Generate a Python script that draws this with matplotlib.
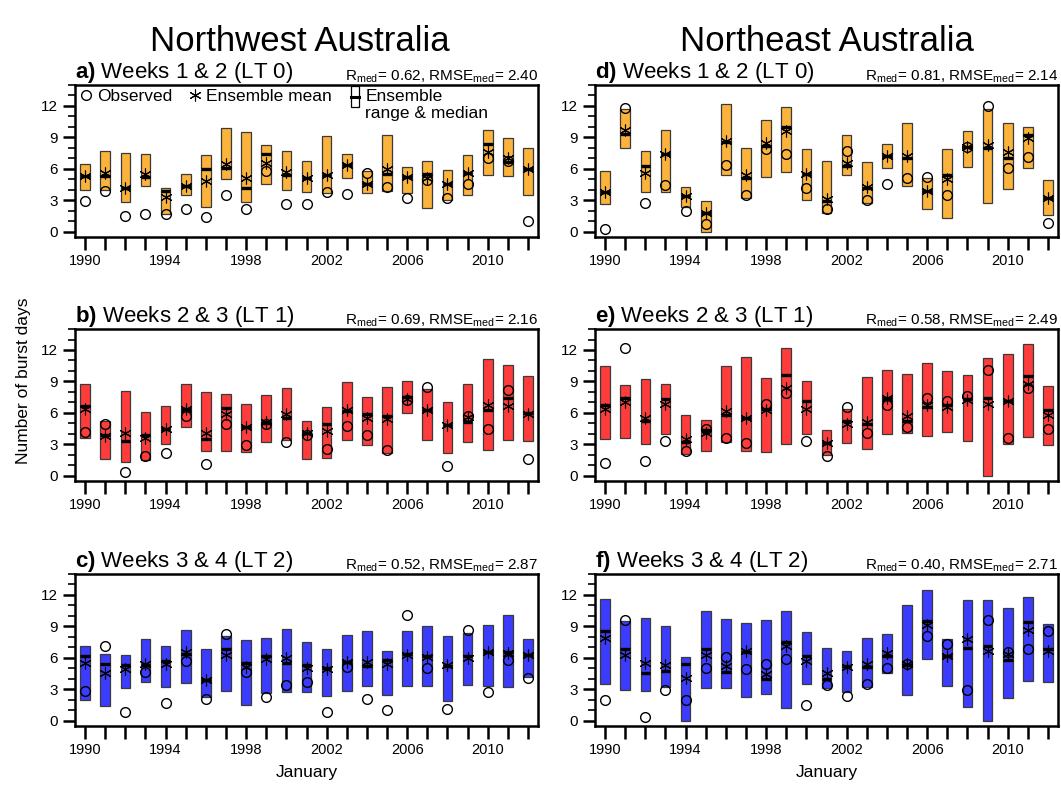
import matplotlib
matplotlib.use('Agg')
import matplotlib.pyplot as plt
import numpy as np
from matplotlib.legend_handler import HandlerBase
from matplotlib.lines import Line2D
from matplotlib.patches import Rectangle
from matplotlib.ticker import MultipleLocator

plt.rcParams['font.family'] = ['Liberation Sans', 'DejaVu Sans']
plt.rcParams['mathtext.fontset'] = 'custom'
plt.rcParams['mathtext.rm'] = 'Liberation Sans'
plt.rcParams['mathtext.bf'] = 'Liberation Sans:bold'

YEARS = np.arange(1990, 2013)
YEAR_LABELS = [str(y) if (y - 1990) % 4 == 0 else '' for y in YEARS]

# a) Northwest, weeks 1 & 2
NW0_LO = [4.0, 4.0, 2.85, 4.35, 1.65, 3.55, 2.4, 5.0, 2.8, 4.6, 4.0, 3.8, 3.65, 5.15, 3.65, 3.85, 3.65, 2.3, 3.0, 3.5, 5.45, 5.35, 3.5]
NW0_HI = [6.5, 7.7, 7.5, 7.4, 4.2, 5.55, 7.3, 9.85, 9.5, 8.3, 7.7, 6.7, 9.15, 7.45, 5.8, 9.2, 6.2, 6.7, 5.9, 7.35, 9.7, 8.95, 8.0]
NW0_MED = [5.3, 5.3, 4.2, 5.2, 3.9, 4.35, 6.0, 6.1, 4.2, 7.4, 5.4, 5.1, 5.45, 6.35, 4.55, 5.55, 5.25, 5.55, 4.55, 5.65, 8.35, 6.65, 6.0]
NW0_MEAN = [5.3, 5.65, 4.2, 5.55, 3.3, 4.35, 4.8, 6.5, 5.1, 6.6, 5.7, 5.1, 5.45, 6.35, 4.55, 5.95, 5.25, 5.1, 4.55, 5.65, 7.6, 7.0, 6.0]
NW0_OBS = [2.9, 3.9, 1.5, 1.7, 1.7, 2.2, 1.4, 3.55, 2.2, 5.8, 2.6, 2.6, 3.75, 3.6, 5.65, 4.3, 3.2, 4.9, 3.2, 4.55, 7.05, 6.7, 1.0]

# b) Northwest, weeks 2 & 3
NW1_LO = [3.6, 1.6, 1.3, 1.5, 3.05, 4.7, 2.4, 2.4, 2.25, 3.2, 3.45, 1.6, 1.7, 3.45, 2.95, 2.2, 5.95, 3.45, 2.2, 3.2, 2.5, 3.45, 3.3]
NW1_HI = [8.75, 5.25, 8.1, 6.1, 6.65, 8.75, 7.95, 7.8, 6.85, 7.7, 8.4, 5.25, 6.6, 8.9, 7.55, 8.5, 9.0, 8.3, 7.0, 8.8, 11.15, 10.55, 9.5]
NW1_MED = [6.65, 3.9, 3.3, 3.9, 4.5, 6.35, 3.5, 6.45, 4.7, 5.0, 5.55, 4.05, 4.95, 6.2, 5.85, 5.7, 7.5, 6.3, 4.85, 5.1, 6.3, 7.45, 6.0]
NW1_MEAN = [6.35, 3.75, 4.05, 3.6, 4.5, 6.35, 4.05, 5.9, 4.7, 5.15, 5.85, 4.05, 4.3, 6.3, 5.5, 5.45, 7.35, 6.3, 4.85, 5.65, 6.75, 6.65, 5.9]
NW1_OBS = [4.2, 4.9, 0.4, 1.9, 2.2, 5.75, 1.15, 4.95, 2.9, 4.95, 3.2, 3.85, 2.55, 4.75, 3.9, 2.5, 7.25, 8.5, 0.95, 5.75, 4.5, 8.2, 1.6]

# c) Northwest, weeks 3 & 4
NW2_LO = [1.95, 1.4, 3.1, 3.7, 3.2, 3.6, 2.25, 2.85, 1.5, 2.65, 2.75, 2.75, 2.35, 2.8, 3.3, 2.5, 3.3, 3.3, 1.9, 3.45, 3.3, 3.2, 4.2]
NW2_HI = [7.1, 6.4, 6.3, 7.8, 7.1, 8.7, 6.8, 8.1, 7.75, 7.9, 8.75, 7.5, 6.85, 8.15, 8.6, 6.65, 8.55, 9.0, 8.05, 8.4, 9.1, 10.05, 7.8]
NW2_MED = [6.15, 5.4, 5.3, 5.35, 5.75, 6.4, 3.85, 6.85, 5.55, 6.15, 5.55, 5.35, 5.05, 5.65, 5.2, 5.8, 6.4, 6.15, 5.2, 6.15, 6.55, 6.55, 6.3]
NW2_MEAN = [5.55, 4.55, 4.9, 5.45, 5.45, 6.55, 3.85, 6.25, 5.1, 5.85, 6.0, 5.0, 4.95, 5.65, 5.65, 5.45, 6.25, 6.1, 5.35, 6.0, 6.55, 6.45, 6.3]
NW2_OBS = [2.85, 7.1, 0.8, 4.65, 1.7, 5.75, 2.1, 8.3, 4.65, 2.25, 3.4, 3.7, 0.8, 5.1, 2.05, 1.0, 10.05, 5.05, 1.1, 8.7, 2.7, 5.8, 4.1]

# d) Northeast, weeks 1 & 2
NE0_LO = [2.6, 7.95, 3.8, 3.75, 2.4, 0.0, 5.4, 3.2, 5.25, 5.7, 3.0, 1.75, 5.4, 2.7, 6.1, 4.4, 2.15, 1.35, 6.2, 2.75, 4.1, 6.05, 1.6]
NE0_HI = [5.8, 11.75, 7.7, 9.75, 4.3, 2.9, 12.2, 7.95, 10.7, 11.9, 7.9, 6.7, 9.25, 6.65, 8.4, 10.4, 5.15, 7.85, 9.6, 11.75, 10.4, 10.0, 4.9]
NE0_MED = [3.8, 9.35, 6.25, 7.4, 3.45, 1.8, 8.55, 5.1, 8.2, 9.95, 5.55, 2.9, 6.25, 4.15, 7.25, 7.0, 3.85, 5.4, 8.1, 8.0, 7.05, 9.2, 3.2]
NE0_MEAN = [3.8, 9.7, 5.65, 7.4, 3.45, 1.8, 8.7, 5.4, 8.5, 9.6, 5.55, 3.1, 6.6, 4.3, 7.25, 7.25, 3.85, 5.0, 8.1, 8.25, 7.6, 8.95, 3.2]
NE0_OBS = [0.25, 11.8, 2.7, 4.5, 2.0, 0.7, 6.35, 3.5, 7.9, 7.45, 4.2, 2.2, 7.7, 3.0, 4.6, 5.1, 5.25, 3.5, 8.1, 11.95, 6.1, 7.15, 0.8]

# e) Northeast, weeks 2 & 3
NE1_LO = [3.5, 3.6, 3.05, 4.0, 2.1, 2.4, 3.2, 2.4, 2.25, 3.05, 3.95, 1.95, 3.1, 2.55, 4.0, 4.05, 3.75, 4.2, 3.35, 0.0, 3.0, 3.7, 2.9]
NE1_HI = [10.5, 8.65, 9.2, 8.75, 5.8, 5.35, 10.5, 11.3, 9.3, 12.15, 9.0, 4.4, 6.4, 9.45, 10.1, 9.7, 10.8, 10.0, 9.6, 11.2, 11.6, 12.55, 8.55]
NE1_MED = [6.75, 7.45, 5.25, 7.3, 3.25, 4.4, 5.8, 5.55, 6.35, 9.6, 7.1, 3.1, 5.25, 4.95, 7.45, 5.2, 6.6, 6.75, 7.35, 7.45, 7.1, 9.5, 6.3]
NE1_MEAN = [6.4, 7.0, 5.5, 6.85, 3.5, 4.05, 6.2, 5.55, 6.3, 8.4, 6.4, 3.1, 4.9, 5.1, 7.45, 5.7, 6.75, 6.6, 7.25, 6.85, 7.1, 8.8, 5.8]
NE1_OBS = [1.2, 12.2, 1.45, 3.35, 2.4, 4.5, 3.6, 3.1, 6.85, 7.85, 3.35, 1.9, 6.6, 4.05, 6.8, 4.65, 7.45, 7.15, 7.65, 10.05, 3.6, 8.35, 4.45]

# f) Northeast, weeks 3 & 4
NE2_LO = [3.5, 2.95, 2.85, 3.2, 0.0, 3.1, 3.15, 2.25, 2.6, 1.2, 3.55, 3.15, 2.75, 3.2, 4.55, 2.45, 5.85, 3.3, 1.3, 0.0, 2.2, 3.8, 3.7]
NE2_HI = [11.65, 9.55, 9.8, 9.05, 6.1, 10.5, 9.75, 9.35, 9.65, 10.45, 8.45, 6.95, 6.7, 7.9, 8.25, 11.0, 12.45, 7.8, 11.55, 11.5, 10.75, 11.8, 9.2]
NE2_MED = [8.6, 6.85, 4.55, 4.75, 5.45, 6.8, 4.7, 6.55, 4.0, 7.5, 6.15, 4.0, 5.2, 5.1, 6.15, 5.3, 9.5, 6.15, 6.95, 7.1, 5.8, 9.45, 6.85]
NE2_MEAN = [7.9, 6.25, 5.5, 5.3, 4.1, 6.3, 5.2, 6.7, 4.45, 7.1, 5.7, 4.55, 5.1, 5.45, 6.45, 5.45, 9.1, 6.15, 7.8, 6.7, 6.4, 8.7, 6.7]
NE2_OBS = [1.95, 9.65, 0.4, 2.95, 2.0, 5.05, 6.1, 4.95, 5.4, 5.9, 1.5, 3.4, 2.35, 3.5, 5.05, 5.45, 8.05, 7.35, 2.9, 9.65, 6.55, 6.85, 8.55]

TITLES = ['Weeks 1 & 2 (LT 0)', 'Weeks 2 & 3 (LT 1)', 'Weeks 3 & 4 (LT 2)']
COLORS = ['#FBB33B', '#FF3C3C', '#3C3CFF']
R_MED = {'a': '0.62', 'b': '0.69', 'c': '0.52', 'd': '0.81', 'e': '0.58', 'f': '0.40'}
RMSE_MED = {'a': '2.40', 'b': '2.16', 'c': '2.87', 'd': '2.14', 'e': '2.49', 'f': '2.71'}

BOX_WIDTH = 0.48


class BoxMedianHandler(HandlerBase):
    def create_artists(self, legend, orig_handle, xdescent, ydescent,
                       width, height, fontsize, trans):
        w = 0.45 * width
        x0 = (width - w) / 2 - xdescent
        rect = Rectangle((x0, -ydescent - 0.55 * height), w, 1.75 * height,
                         fc='white', ec='black', lw=0.9, transform=trans)
        yc = -ydescent + 0.3 * height
        line = Line2D([x0, x0 + w], [yc, yc], color='black', lw=2.2,
                      transform=trans)
        return [rect, line]


def draw_panel(ax, letter, title, color, lo, hi, med, mean, obs, show_xlabel):
    lo = np.asarray(lo)
    hi = np.asarray(hi)
    med = np.asarray(med)

    ax.bar(YEARS, hi - lo, bottom=lo, width=BOX_WIDTH, color=color,
           edgecolor='#3a3a3a', linewidth=0.9, zorder=2)
    ax.hlines(med, YEARS - BOX_WIDTH / 2, YEARS + BOX_WIDTH / 2,
              color='black', linewidth=2.4, zorder=3)
    ax.plot(YEARS, mean, ls='none', marker=(6, 2, 0), ms=8.5, mew=0.8,
            color='black', zorder=4)
    ax.plot(YEARS, obs, ls='none', marker='o', ms=7, mfc='none', mec='black',
            mew=1.0, zorder=5)

    ax.set_xlim(1989.5, 2012.5)
    ax.set_ylim(-0.5, 14)
    ax.set_xticks(YEARS)
    ax.set_xticklabels(YEAR_LABELS)
    ax.yaxis.set_major_locator(MultipleLocator(3))
    ax.yaxis.set_minor_locator(MultipleLocator(1))
    ax.set_yticks(np.arange(0, 13, 3))
    ax.tick_params(axis='x', direction='out', length=9, width=1.8,
                   labelsize=10.5, pad=3, top=False)
    ax.tick_params(axis='y', which='major', direction='out', length=9,
                   width=1.8, labelsize=11, right=False)
    ax.tick_params(axis='y', which='minor', direction='out', length=5,
                   width=1.2, right=False)
    for spine in ax.spines.values():
        spine.set_linewidth(1.8)

    ax.text(0.0, 1.0, r'$\mathbf{' + letter + r')}$ ' + title,
            transform=ax.transAxes, ha='left', va='bottom', fontsize=16)
    ax.text(1.0, 1.0,
            r'R$_{\mathrm{med}}$= ' + R_MED[letter]
            + r', RMSE$_{\mathrm{med}}$= ' + RMSE_MED[letter],
            transform=ax.transAxes, ha='right', va='bottom', fontsize=11)
    if show_xlabel:
        ax.set_xlabel('January', fontsize=12.5, labelpad=6)


def main() -> None:
    fig = plt.figure(figsize=(10.61, 7.86), dpi=100)

    lefts = [0.0707, 0.5608]
    bottoms = [0.6985, 0.388, 0.0763]
    width, height = 0.4364, 0.1934

    panels = [
        ('a', 0, 0, NW0_LO, NW0_HI, NW0_MED, NW0_MEAN, NW0_OBS),
        ('b', 0, 1, NW1_LO, NW1_HI, NW1_MED, NW1_MEAN, NW1_OBS),
        ('c', 0, 2, NW2_LO, NW2_HI, NW2_MED, NW2_MEAN, NW2_OBS),
        ('d', 1, 0, NE0_LO, NE0_HI, NE0_MED, NE0_MEAN, NE0_OBS),
        ('e', 1, 1, NE1_LO, NE1_HI, NE1_MED, NE1_MEAN, NE1_OBS),
        ('f', 1, 2, NE2_LO, NE2_HI, NE2_MED, NE2_MEAN, NE2_OBS),
    ]

    axes = {}
    for letter, col, row, lo, hi, med, mean, obs in panels:
        ax = fig.add_axes([lefts[col], bottoms[row], width, height])
        draw_panel(ax, letter, TITLES[row], COLORS[row], lo, hi, med, mean,
                   obs, show_xlabel=(row == 2))
        axes[letter] = ax

    # legend in panel a; the second line of the box entry hangs under it
    handles = [
        Line2D([], [], ls='none', marker='o', ms=7, mfc='none', mec='black'),
        Line2D([], [], ls='none', marker=(6, 2, 0), ms=8.5, mew=0.8,
               color='black'),
        Rectangle((0, 0), 1, 1),
    ]
    labels = ['Observed', 'Ensemble mean', 'Ensemble']
    leg = axes['a'].legend(handles, labels, loc='upper left', ncol=3,
                           frameon=False, fontsize=12.5, handlelength=0.9,
                           handletextpad=0.15, columnspacing=0.9,
                           borderaxespad=0.1, borderpad=0.1,
                           handler_map={Rectangle: BoxMedianHandler()})
    leg.set_zorder(6)
    axes['a'].annotate('range & median', xy=(0, 0),
                       xycoords=leg.get_texts()[2], xytext=(0, -1.5),
                       textcoords='offset points', ha='left', va='top',
                       fontsize=12.5, zorder=7)

    fig.text(0.022, 0.515, 'Number of burst days', rotation=90,
             ha='center', va='center', fontsize=12.5)
    title_y = 1 - 51 / 786
    fig.text(0.283, title_y, 'Northwest Australia', ha='center',
             va='baseline', fontsize=25)
    fig.text(0.779, title_y, 'Northeast Australia', ha='center',
             va='baseline', fontsize=25)

    fig.savefig('out.png', dpi=100)
    plt.close(fig)


if __name__ == '__main__':
    main()
